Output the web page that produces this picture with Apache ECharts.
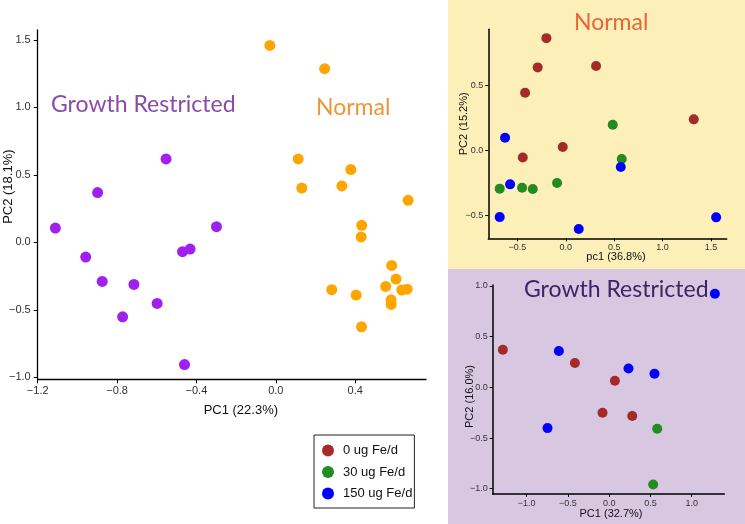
<!DOCTYPE html>
<html>
<head>
<meta charset="utf-8">
<script src="https://cdn.jsdelivr.net/npm/echarts@6/dist/echarts.min.js"></script>
<style>
html,body{margin:0;padding:0;background:#fff;}
#chart{width:745px;height:524px;}
</style>
</head>
<body>
<div id="chart"></div>
<script>
// ---- Data ----
// Main PCA: groups
const growthRestricted = [
  [-1.111, 0.106], [-0.898, 0.369], [-0.553, 0.618], [-0.299, 0.116],
  [-0.470, -0.069], [-0.432, -0.050], [-0.958, -0.109], [-0.875, -0.290],
  [-0.715, -0.312], [-0.598, -0.453], [-0.772, -0.552], [-0.460, -0.906]
];
const normal = [
  [-0.030, 1.460], [0.246, 1.287], [0.113, 0.618], [0.378, 0.540],
  [0.131, 0.403], [0.333, 0.418], [0.667, 0.312], [0.433, 0.126],
  [0.430, 0.040], [0.584, -0.171], [0.606, -0.272], [0.554, -0.327],
  [0.635, -0.354], [0.662, -0.347], [0.282, -0.351], [0.405, -0.391],
  [0.581, -0.426], [0.581, -0.460], [0.432, -0.626]
];
// Inset "Normal" PCA by dose
const normal_0 = [[-0.200, 0.866], [-0.290, 0.641], [0.313, 0.651], [-0.420, 0.446], [1.322, 0.241], [-0.031, 0.028], [-0.444, -0.052]];
const normal_30 = [[0.485, 0.200], [0.578, -0.064], [-0.090, -0.249], [-0.682, -0.292], [-0.451, -0.285], [-0.341, -0.295]];
const normal_150 = [[-0.627, 0.100], [-0.575, -0.259], [0.568, -0.126], [-0.682, -0.511], [0.134, -0.603], [1.553, -0.513]];
// Inset "Growth Restricted" PCA by dose
const gr_0 = [[-1.289, 0.371], [-0.416, 0.240], [0.069, 0.065], [-0.081, -0.251], [0.279, -0.283]];
const gr_30 = [[0.582, -0.408], [0.533, -0.958]];
const gr_150 = [[1.281, 0.924], [-0.610, 0.358], [0.234, 0.187], [0.549, 0.134], [-0.748, -0.402]];

const doseNames = ['0 ug Fe/d', '30 ug Fe/d', '150 ug Fe/d'];

// Tick values
const mainXTicks = [-1.2, -0.8, -0.4, 0.0, 0.4];
const mainYTicks = [-1.0, -0.5, 0.0, 0.5, 1.0, 1.5];
const topXTicks = [-0.5, 0.0, 0.5, 1.0, 1.5];
const topYTicks = [-0.5, 0.0, 0.5];
const botXTicks = [-1.0, -0.5, 0.0, 0.5, 1.0];
const botYTicks = [-1.0, -0.5, 0.0, 0.5, 1.0];

// Axis titles
const mainXName = 'PC1 (22.3%)', mainYName = 'PC2 (18.1%)';
const topXName = 'pc1 (36.8%)', topYName = 'PC2 (15.2%)';
const botXName = 'PC1 (32.7%)', botYName = 'PC2 (16.0%)';

// ---- Styling ----
const doseColors = ['#A52A2A', '#228B22', '#0000FF'];
const FONT = 'Liberation Sans, Arial, sans-serif';
const fmt = v => (Math.abs(v) < 1e-9 ? 0 : v).toFixed(1).replace('-', '\u2212');

function axisCommon(ticks, lw, tickLen, labelSize, margin, name, nameSize, nameGap, namePad) {
  return {
    type: 'value',
    axisLine: { show: true, onZero: false, lineStyle: { color: '#000', width: lw } },
    axisTick: { show: true, length: tickLen, customValues: ticks, lineStyle: { color: '#000', width: 1 } },
    axisLabel: { show: true, customValues: ticks, formatter: fmt, color: '#333', fontSize: labelSize, fontFamily: FONT, margin: margin },
    splitLine: { show: false },
    name: name, nameLocation: 'middle', nameGap: nameGap, nameMoveOverlap: false,
    nameTextStyle: { color: '#111', fontSize: nameSize, fontFamily: FONT, padding: namePad }
  };
}

const chart = echarts.init(document.getElementById('chart'), null, { renderer: 'canvas' });

const option = {
  animation: false,
  backgroundColor: '#fff',
  graphic: [
    { type: 'rect', z: -10, shape: { x: 448, y: 0, width: 297, height: 269 }, style: { fill: '#FDEFB8' }, silent: true },
    { type: 'rect', z: -10, shape: { x: 448, y: 269, width: 297, height: 255 }, style: { fill: '#D8C7E0' }, silent: true },
    { type: 'text', x: 51, y: 105, z: 10, style: { text: 'Growth Restricted', font: '23px Lato, sans-serif', fill: '#8B4CA8', verticalAlign: 'middle' } },
    { type: 'text', x: 316, y: 108, z: 10, style: { text: 'Normal', font: '23px Lato, sans-serif', fill: '#F09435', verticalAlign: 'middle' } },
    { type: 'text', x: 574, y: 23, z: 10, style: { text: 'Normal', font: '23px Lato, sans-serif', fill: '#E8643A', verticalAlign: 'middle' } },
    { type: 'text', x: 524, y: 290, z: 10, style: { text: 'Growth Restricted', font: '23px Lato, sans-serif', fill: '#3E2366', verticalAlign: 'middle' } }
  ],
  grid: [
    { left: 37.7, top: 30, width: 388.3, height: 349.3, containLabel: false, outerBoundsMode: 'none' },
    { left: 488.3, top: 29.3, width: 238.4, height: 209, containLabel: false, outerBoundsMode: 'none' },
    { left: 492.7, top: 285, width: 231.6, height: 209, containLabel: false, outerBoundsMode: 'none' }
  ],
  xAxis: [
    Object.assign(axisCommon(mainXTicks, 1.3, 4, 11, 6, mainXName, 13, 25, [0, 0, 0, 18]), { gridIndex: 0, min: -1.2, max: 0.757 }),
    Object.assign(axisCommon(topXTicks, 1.5, 3, 9, 5, topXName, 11, 13, [0, 0, 0, 17]), { gridIndex: 1, min: -0.80, max: 1.662 }),
    Object.assign(axisCommon(botXTicks, 1.5, 3, 9, 5, botXName, 11, 14, [0, 0, 0, 5]), { gridIndex: 2, min: -1.412, max: 1.395 })
  ],
  yAxis: [
    Object.assign(axisCommon(mainYTicks, 1.3, 4, 11, 7, mainYName, 13, 23, [0, 0, 0, 36]), { gridIndex: 0, min: -1.015, max: 1.574 }),
    Object.assign(axisCommon(topYTicks, 1.5, 3, 9, 5, topYName, 11, 19, [0, 0, 0, 20]), { gridIndex: 1, min: -0.674, max: 0.934 }),
    Object.assign(axisCommon(botYTicks, 1.5, 3, 9, 5, botYName, 11, 17, [0, 14, 0, 0]), { gridIndex: 2, min: -1.052, max: 1.01 })
  ],
  legend: {
    data: doseNames,
    orient: 'vertical',
    left: 314, top: 435,
    icon: 'circle',
    itemWidth: 12, itemHeight: 12, itemGap: 8.5,
    padding: [9, 2, 8, 8],
    borderColor: '#222', borderWidth: 1,
    backgroundColor: '#fff',
    textStyle: { fontSize: 13, fontFamily: FONT, color: '#111', padding: [0, 0, 0, 4] }
  },
  series: [
    { type: 'scatter', name: 'Growth Restricted', xAxisIndex: 0, yAxisIndex: 0, data: growthRestricted, symbolSize: 11, itemStyle: { color: '#A020F0', opacity: 1 }, clip: false },
    { type: 'scatter', name: 'Normal', xAxisIndex: 0, yAxisIndex: 0, data: normal, symbolSize: 11, itemStyle: { color: '#FFA500', opacity: 1 }, clip: false },
    { type: 'scatter', name: doseNames[0], xAxisIndex: 1, yAxisIndex: 1, data: normal_0, symbolSize: 10, itemStyle: { color: doseColors[0], opacity: 1 }, clip: false },
    { type: 'scatter', name: doseNames[1], xAxisIndex: 1, yAxisIndex: 1, data: normal_30, symbolSize: 10, itemStyle: { color: doseColors[1], opacity: 1 }, clip: false },
    { type: 'scatter', name: doseNames[2], xAxisIndex: 1, yAxisIndex: 1, data: normal_150, symbolSize: 10, itemStyle: { color: doseColors[2], opacity: 1 }, clip: false },
    { type: 'scatter', name: doseNames[0], xAxisIndex: 2, yAxisIndex: 2, data: gr_0, symbolSize: 10, itemStyle: { color: doseColors[0], opacity: 1 }, clip: false },
    { type: 'scatter', name: doseNames[1], xAxisIndex: 2, yAxisIndex: 2, data: gr_30, symbolSize: 10, itemStyle: { color: doseColors[1], opacity: 1 }, clip: false },
    { type: 'scatter', name: doseNames[2], xAxisIndex: 2, yAxisIndex: 2, data: gr_150, symbolSize: 10, itemStyle: { color: doseColors[2], opacity: 1 }, clip: false }
  ]
};
chart.setOption(option);
</script>
</body>
</html>
